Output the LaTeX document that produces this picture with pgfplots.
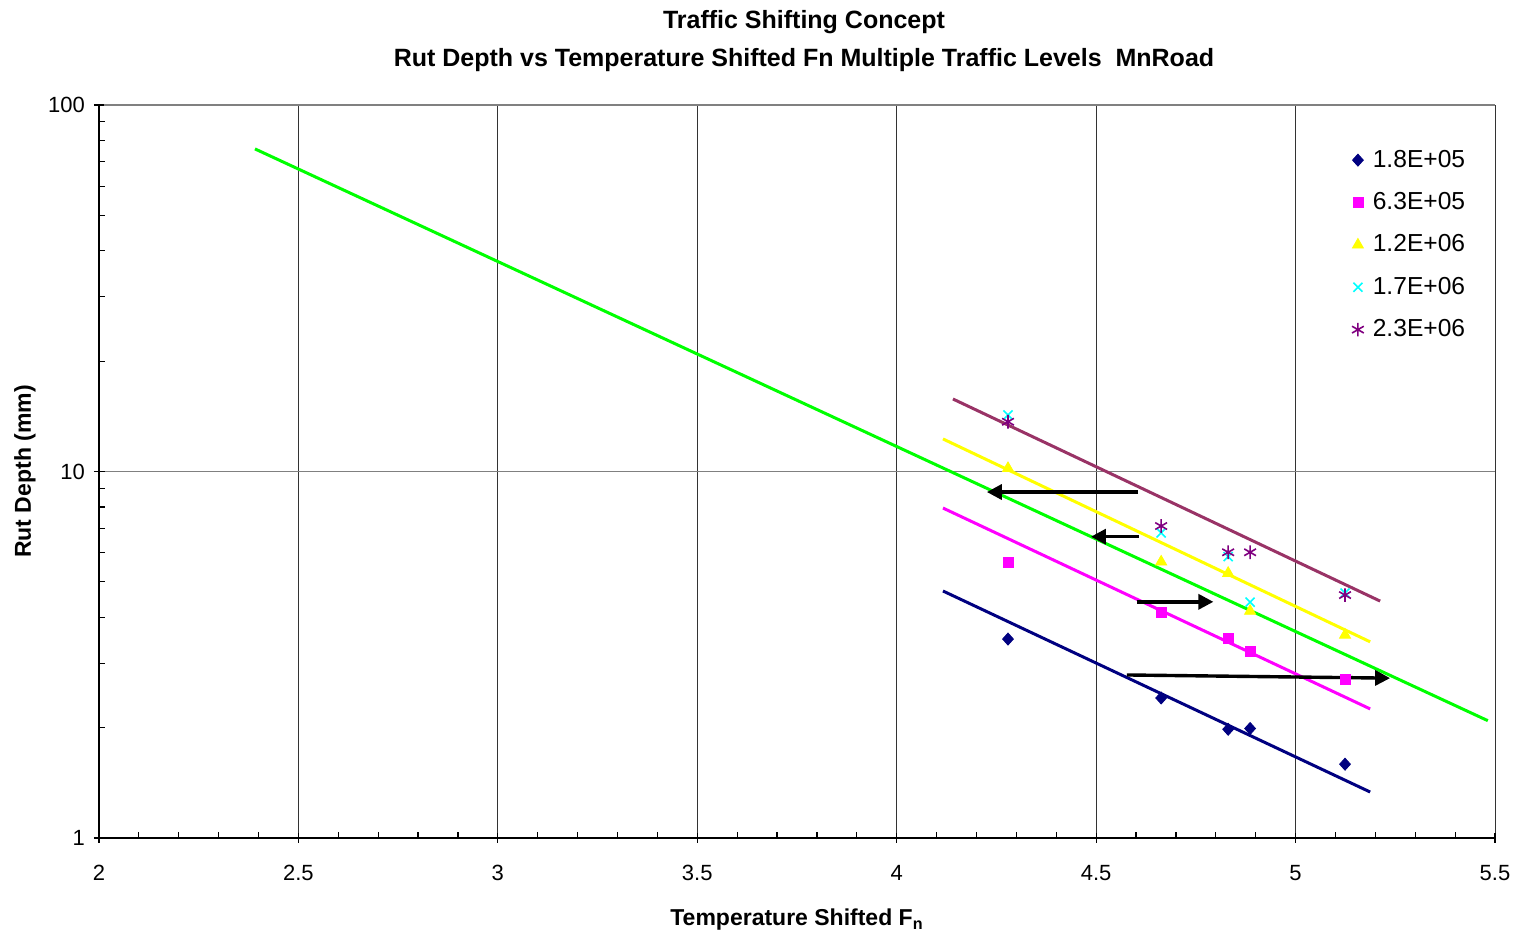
\documentclass[border=0pt]{standalone}
\usepackage{fontspec}
\setmainfont{Liberation Sans}
\usepackage{pgfplots}
\pgfplotsset{compat=1.18}
\usetikzlibrary{arrows.meta}
\definecolor{navyc}{HTML}{000080}
\definecolor{magc}{HTML}{FF00FF}
\definecolor{yelc}{HTML}{FFFF00}
\definecolor{cyac}{HTML}{00FFFF}
\definecolor{purc}{HTML}{800080}
\definecolor{brownc}{HTML}{993366}
\definecolor{greenc}{HTML}{00FF00}
\begin{document}
\begin{tikzpicture}
\path[use as bounding box] (-49.5pt,-47pt) rectangle (709pt,419pt);
\begin{axis}[
  at={(0,0)}, anchor=south west,
  scale only axis, width=698pt, height=366.5pt,
  xmin=2, xmax=5.5, ymin=1, ymax=100, ymode=log,
  xtick={2,2.5,3,3.5,4,4.5,5,5.5}, minor x tick num=4,
  ytick={1,10,100},
  log ticks with fixed point,
  /pgf/number format/assume math mode=true,
  axis x line*=bottom, axis y line*=left,
  axis line style={black, line width=1pt},
  grid=major,
  major x grid style={black!80, line width=0.5pt},
  major y grid style={black!50, line width=0.6pt},
  tick align=inside, major tick length=5pt, minor tick length=3pt,
  tick style={black, line width=0.6pt},
  every major x tick/.append style={yshift=-2.5pt},
  every major y tick/.append style={xshift=-2.5pt},
  ticklabel style={font=\fontsize{11}{13}\selectfont},
  xticklabel style={yshift=-10pt},
  yticklabel style={xshift=-3.5pt},
  xlabel={Temperature Shifted F\textsubscript{n}},
  xlabel style={font=\bfseries\fontsize{11.5}{13}\selectfont, at={(axis description cs:0.5,-0.1118)}, anchor=center},
  ylabel={Rut Depth (mm)},
  ylabel style={font=\bfseries\fontsize{11.5}{13}\selectfont, at={(axis description cs:-0.0530,0.5)}, anchor=center},
  title={Traffic Shifting Concept\\Rut Depth vs Temperature Shifted Fn Multiple Traffic Levels\ \ MnRoad},
  title style={font=\bfseries\fontsize{12.5}{18.8}\selectfont, align=center, at={(axis description cs:0.505,1.0705)}, anchor=center},
  legend style={draw=none, fill=none, at={(axis description cs:0.893,0.950)}, anchor=north west, font=\fontsize{12.3}{14}\selectfont, row sep=7.1pt, column sep=2.5pt},
  legend cell align=left,
]
% trend lines
\addplot[forget plot, navyc, line width=1.5pt] coordinates {(4.116,4.72) (5.187,1.335)};
\addplot[forget plot, magc, line width=1.5pt] coordinates {(4.116,7.95) (5.187,2.25)};
\addplot[forget plot, yelc, line width=1.5pt] coordinates {(4.116,12.27) (5.187,3.43)};
\addplot[forget plot, brownc, line width=1.5pt] coordinates {(4.141,15.77) (5.212,4.43)};
\addplot[forget plot, greenc, line width=1.5pt] coordinates {(2.391,75.9) (5.482,2.09)};
% data
\addplot[only marks, mark=diamond*, mark size=3pt, color=navyc, mark options={xscale=1.2}] coordinates {(4.279,3.49) (4.663,2.41) (4.831,1.98) (4.886,1.99) (5.124,1.59)};
\addlegendentry{1.8E+05}
\addplot[only marks, mark=square*, mark size=2.5pt, color=magc] coordinates {(4.279,5.66) (4.663,4.12) (4.831,3.51) (4.886,3.22) (5.124,2.71)};
\addlegendentry{6.3E+05}
\addplot[only marks, mark=triangle*, mark size=3.2pt, color=yelc] coordinates {(4.279,10.2) (4.663,5.67) (4.831,5.28) (4.886,4.16) (5.124,3.58)};
\addlegendentry{1.2E+06}
\addplot[only marks, mark=x, mark size=3.2pt, color=cyac, mark options={line width=0.8pt}] coordinates {(4.279,14.26) (4.663,6.80) (4.831,5.86) (4.886,4.40) (5.124,4.66)};
\addlegendentry{1.7E+06}
\addplot[only marks, mark=asterisk, mark size=3.4pt, color=purc, mark options={line width=0.8pt}] coordinates {(4.279,13.67) (4.663,7.10) (4.831,6.02) (4.886,6.02) (5.124,4.60)};
\addlegendentry{2.3E+06}
% arrows
\addplot[forget plot, black, line width=1.7pt, -{Triangle[length=7.5pt,width=7.5pt]}] coordinates {(4.605,8.79) (4.226,8.79)};
\addplot[forget plot, black, line width=1.7pt, -{Triangle[length=7.5pt,width=7.5pt]}] coordinates {(4.607,6.64) (4.487,6.64)};
\addplot[forget plot, black, line width=1.7pt, -{Triangle[length=7.5pt,width=7.5pt]}] coordinates {(4.602,4.41) (4.794,4.41)};
\addplot[forget plot, black, line width=1.7pt, -{Triangle[length=7.5pt,width=7.5pt]}] coordinates {(4.577,2.785) (5.237,2.73)};
\end{axis}
\end{tikzpicture}
\end{document}
